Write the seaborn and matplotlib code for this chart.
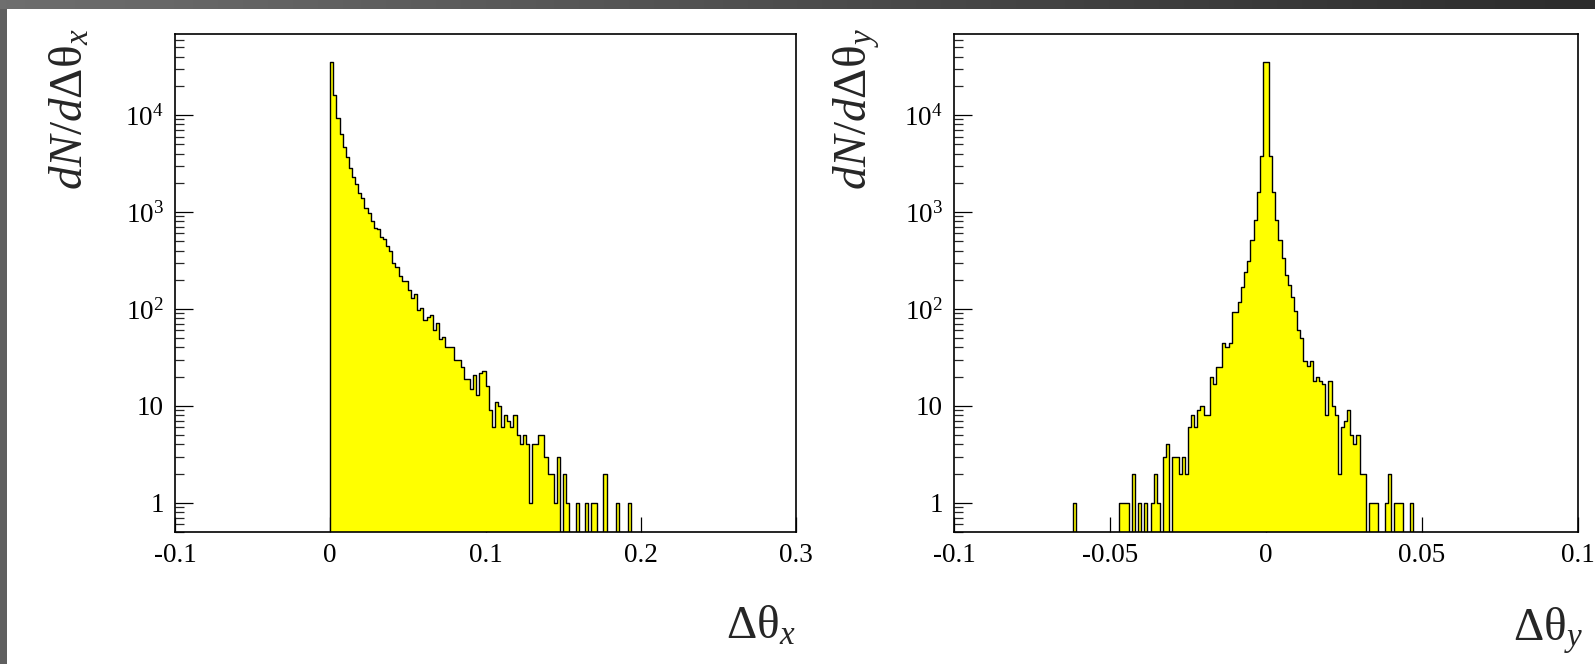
import numpy as np
import pandas as pd
import matplotlib
matplotlib.use("Agg")
import matplotlib.pyplot as plt
import seaborn as sns
from matplotlib.ticker import FixedLocator, FixedFormatter, NullLocator, LogLocator, NullFormatter
from matplotlib.colors import LinearSegmentedColormap
from matplotlib.patches import Rectangle

# ---- Δθx : 200 bins on [-0.1, 0.3]; filled bins start at θ = 0 (bin 50)
dtx_range = (-0.1, 0.3)
dtx_nbins = 200
dtx_first_bin = 50
dtx_counts = [
    35500, 16100, 9400, 6330, 4650, 3670, 2840, 2280, 1930, 1560,
    1385, 1107, 983, 813, 688, 662, 548, 527, 449, 399,
    296, 270, 217, 195, 195, 157, 131, 142, 97, 101,
    77, 83, 87, 61, 72, 49, 51, 40, 40, 40,
    30, 30, 25, 19, 19, 15, 21, 13, 22, 23,
    16, 9, 6, 11, 10, 6, 8, 7, 6, 8,
    5, 4, 5, 4, 1, 4, 4, 5, 5, 3,
    2, 2, 1, 3, 0, 2, 1, 0, 0, 1,
    0, 0, 1, 0, 1, 1, 0, 0, 2, 0,
    0, 0, 1, 0, 0, 0, 1,
]

# ---- Δθy : 200 bins on [-0.1, 0.1]; filled bins start at θ = -0.062 (bin 38)
dty_range = (-0.1, 0.1)
dty_nbins = 200
dty_first_bin = 38
dty_counts = [
    1, 0, 0, 0, 0, 0, 0, 0, 0, 0, 0, 0, 0, 0, 0,
    1, 1, 1, 0, 2, 0, 1, 0, 1, 0,
    1, 2, 1, 0, 3, 4, 0, 3, 3, 2,
    3, 2, 6, 8, 6, 9, 10, 8, 8, 20,
    17, 25, 25, 45, 40, 45, 94, 94, 119, 167,
    240, 310, 514, 827, 1620, 3790, 35600, 35600, 3790, 1620,
    827, 514, 333, 225, 177, 132, 96, 60, 50, 29,
    26, 29, 18, 20, 18, 17, 8, 18, 10, 8,
    2, 6, 7, 9, 5, 4, 5, 2, 2, 0,
    1, 1, 1, 0, 0, 1, 2, 0, 1, 1,
    1, 0, 0, 1,
]

left_xticks = [-0.1, 0.0, 0.1, 0.2, 0.3]
left_xticklabels = ["-0.1", "0", "0.1", "0.2", "0.3"]
right_xticks = [-0.1, -0.05, 0.0, 0.05, 0.1]
right_xticklabels = ["-0.1", "-0.05", "0", "0.05", "0.1"]
yticks = [1, 10, 100, 1000, 10000]
yticklabels = ["1", "10", r"$10^{2}$", r"$10^{3}$", r"$10^{4}$"]
y_limits = (0.5, 6.85e4)

sns.set_style("ticks")
plt.rcParams["font.family"] = ["Liberation Serif", "DejaVu Serif"]
plt.rcParams["mathtext.fontset"] = "custom"
plt.rcParams["mathtext.rm"] = "Liberation Serif"
plt.rcParams["mathtext.it"] = "Liberation Serif:italic"
plt.rcParams["mathtext.bf"] = "Liberation Serif:bold"
plt.rcParams["axes.edgecolor"] = "black"

W, H = 1595, 664
fig = plt.figure(figsize=(W / 100, H / 100), dpi=100)
fig.patch.set_facecolor("white")

# slide frame: dark band on top, grey strip on the left
band = fig.add_axes([0, 1 - 9 / H, 1, 9 / H])
band.imshow(np.linspace(0, 1, 256)[None, :],
            cmap=LinearSegmentedColormap.from_list("band", ["#6e6e6e", "#2c2c2c"]),
            aspect="auto", extent=[0, 1, 0, 1])
band.axis("off")
fig.add_artist(Rectangle((0, 0), 7 / W, 1, transform=fig.transFigure,
                         facecolor="#5f5f5f", edgecolor="none", zorder=0))


def to_frame(counts, first, nbins, lo, hi):
    edges = np.linspace(lo, hi, nbins + 1)
    full = np.zeros(nbins)
    full[first:first + len(counts)] = counts
    centers = 0.5 * (edges[:-1] + edges[1:])
    return pd.DataFrame({"theta": centers, "n": full})


def draw_panel(rect, counts, first, nbins, xr, xticks, xticklabels,
               ylab, xlab, ylab_x, xlab_x):
    ax = fig.add_axes(rect)
    df = to_frame(counts, first, nbins, *xr)
    sns.histplot(data=df, x="theta", weights="n", bins=nbins, binrange=xr,
                 element="step", fill=True, color="#ffff00", edgecolor="black",
                 linewidth=1.0, alpha=1.0, ax=ax)
    ax.set_yscale("log")
    ax.set_xlim(*xr)
    ax.set_ylim(*y_limits)

    for s in ax.spines.values():
        s.set_visible(True)
        s.set_linewidth(1.2)
        s.set_color("black")

    ax.xaxis.set_major_locator(FixedLocator(xticks))
    ax.xaxis.set_major_formatter(FixedFormatter(xticklabels))
    ax.xaxis.set_minor_locator(NullLocator())
    ax.yaxis.set_major_locator(FixedLocator(yticks))
    ax.yaxis.set_major_formatter(FixedFormatter(yticklabels))
    ax.yaxis.set_minor_locator(LogLocator(base=10, subs=np.arange(2, 10), numticks=30))
    ax.yaxis.set_minor_formatter(NullFormatter())

    ax.tick_params(axis="y", which="major", direction="in", length=13, width=0.9,
                   left=True, right=False, labelsize=19.5, pad=8, colors="black")
    ax.tick_params(axis="y", which="minor", direction="in", length=6.5, width=0.9,
                   left=True, right=False)
    ax.tick_params(axis="x", which="major", direction="in", length=11, width=0.9,
                   bottom=True, top=False, labelsize=19.5, pad=8, colors="black")
    ax.grid(False)

    ax.set_ylabel(ylab, fontsize=34, loc="top")
    ax.yaxis.set_label_coords(ylab_x, 1.012)
    ax.set_xlabel(xlab, fontsize=34, loc="right")
    ax.xaxis.set_label_coords(xlab_x, -0.148)
    return ax


draw_panel([175 / W, 1 - 532 / H, 621 / W, 498 / H], dtx_counts, dtx_first_bin,
           dtx_nbins, dtx_range, left_xticks, left_xticklabels,
           r"$dN/d\Delta\mathrm{\theta}_{x}$", r"$\Delta\mathrm{\theta}_{x}$",
           -0.132, 1.0)
draw_panel([954 / W, 1 - 532 / H, 624 / W, 498 / H], dty_counts, dty_first_bin,
           dty_nbins, dty_range, right_xticks, right_xticklabels,
           r"$dN/d\Delta\mathrm{\theta}_{y}$", r"$\Delta\mathrm{\theta}_{y}$",
           -0.115, 1.008)

fig.savefig("out.png", dpi=100)
